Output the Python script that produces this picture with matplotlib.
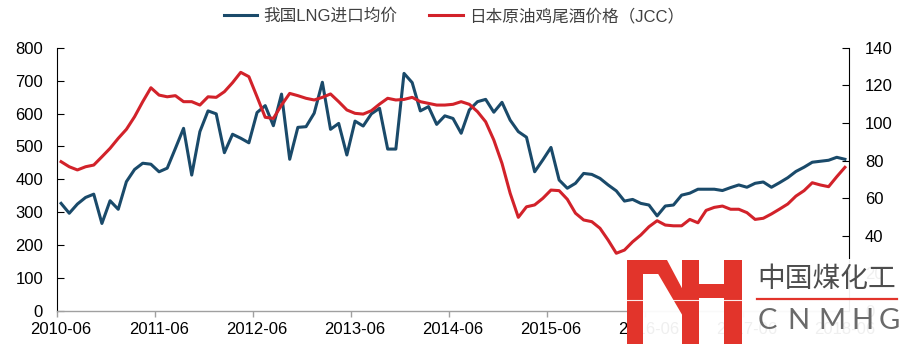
import matplotlib
matplotlib.use("Agg")
import matplotlib.pyplot as plt
from matplotlib.patches import Rectangle, Polygon
import numpy as np

plt.rcParams['font.family'] = ['Liberation Sans', 'Noto Sans CJK SC', 'DejaVu Sans']

# monthly, 2010-06 .. 2018-06
months = [f"{2010 + (5 + i) // 12}-{(5 + i) % 12 + 1:02d}" for i in range(97)]

# LNG average import price (left axis)
lng_price = [327, 297, 325, 345, 355, 266, 335, 309, 393, 430, 449, 446, 423, 434, 494, 555,
             413, 545, 608, 599, 481, 537, 525, 511, 603, 624, 563, 659, 461, 558, 560, 601,
             695, 552, 570, 474, 577, 562, 599, 616, 492, 492, 722, 694, 608, 621, 567, 593,
             585, 540, 611, 636, 643, 604, 634, 580, 545, 528, 423, 459, 497, 398, 373, 388,
             418, 415, 403, 383, 365, 334, 339, 327, 322, 289, 319, 322, 352, 358, 370, 370,
             370, 366, 375, 383, 376, 388, 392, 376, 390, 405, 424, 437, 452, 455, 458, 467, 461]

# Japan crude cocktail price (right axis)
jcc_price = [79.4, 76.7, 75.0, 76.7, 77.6, 82.0, 86.5, 91.8, 96.6, 103.3, 111.3, 118.7, 114.8, 113.9, 114.5, 111.3,
             111.3, 109.5, 113.9, 113.6, 116.6, 121.4, 126.9, 124.6, 113.9, 103.0, 102.4, 109.5, 115.7, 114.5, 113.1, 112.2,
             113.6, 115.4, 111.3, 106.9, 105.1, 104.7, 106.5, 110.0, 113.1, 112.2, 112.5, 113.6, 111.3, 110.4, 109.5, 109.5,
             109.9, 111.3, 109.9, 106.0, 100.6, 90.9, 78.5, 62.6, 49.8, 55.4, 56.4, 59.9, 64.3, 64.0, 59.4, 52.0,
             48.4, 47.5, 44.0, 37.7, 30.7, 32.4, 36.8, 40.4, 44.8, 48.0, 45.7, 45.3, 45.3, 48.7, 46.9, 53.5,
             55.1, 55.8, 54.1, 54.1, 52.3, 48.7, 49.3, 51.6, 54.2, 56.9, 61.1, 64.0, 68.2, 67.0, 66.1, 71.4, 76.4]

BLUE = '#1a4a6a'
RED = '#d2222a'

x = np.arange(len(months))

fig = plt.figure(figsize=(9.03, 3.44), dpi=100)
ax = fig.add_axes([57 / 903, 1 - 311 / 344, (849 - 57) / 903, (311 - 47.7) / 344])
ax2 = ax.twinx()

l1, = ax.plot(x, lng_price, color=BLUE, lw=2.2, label='我国LNG进口均价')
l2, = ax2.plot(x, jcc_price, color=RED, lw=2.2, label='日本原油鸡尾酒价格（JCC）')

ax.set_xlim(-0.5, len(months) - 0.5)
ax.set_ylim(0, 800)
ax2.set_ylim(0, 140)
ax.set_yticks(range(0, 801, 100))
ax2.set_yticks(range(0, 141, 20))

# ticks sit between months, labels on the month itself
ax.set_xticks(np.arange(-0.5, len(months), 12))
ax.set_xticklabels([])
ax.set_xticks(x[::12], labels=[months[i] for i in x[::12]], minor=True)
ax.tick_params(axis='x', which='major', direction='out', length=4, color='#a0a0a0', width=1)
ax.tick_params(axis='x', which='minor', length=0, pad=8, labelsize=12)
ax.tick_params(axis='y', direction='in', length=5, width=0.8, pad=10, labelsize=12)
ax2.tick_params(axis='y', direction='in', length=5, width=0.8, pad=11.5, labelsize=12)

for s in ['top', 'right']:
    ax.spines[s].set_visible(False)
for s in ['top', 'left', 'bottom']:
    ax2.spines[s].set_visible(False)
ax.spines['bottom'].set_color('#a0a0a0')
ax.spines['bottom'].set_linewidth(1)
ax.spines['left'].set_linewidth(0.8)
ax2.spines['right'].set_linewidth(0.8)

leg = fig.legend([l1, l2], [l1.get_label(), l2.get_label()], loc='center',
                 bbox_to_anchor=(0.503, 0.953), ncol=2, frameon=False, fontsize=12,
                 handlelength=2, handletextpad=0.4, columnspacing=1.9)
for t in leg.get_texts():
    t.set_color('#404040')

# watermark logo in the lower right corner
lx = fig.add_axes([0, 0, 1, 1], zorder=10)
lx.set_xlim(0, 903)
lx.set_ylim(344, 0)
lx.axis('off')
lx.add_patch(Rectangle((627, 259), 276, 85, fc='white', ec='none', alpha=0.94))
logo_red = '#e2342b'
lx.add_patch(Polygon([(627, 260), (666, 260), (666, 274), (643, 274), (643, 344), (627, 344)],
                     fc=logo_red, ec='none'))
lx.add_patch(Polygon([(650, 260), (667, 260), (684, 292), (684, 318)], fc=logo_red, ec='none'))
lx.add_patch(Rectangle((682, 260), 17, 84, fc=logo_red, ec='none'))
lx.add_patch(Rectangle((699, 284), 25, 14, fc=logo_red, ec='none'))
lx.add_patch(Rectangle((724, 260), 18, 84, fc=logo_red, ec='none'))
lx.plot([627, 742], [300, 300], color='white', lw=0.8, alpha=0.9)
lx.text(757, 279, '中国煤化工', fontsize=20, color='#4d4d4d', ha='left', va='center',
        family=['Noto Sans CJK SC', 'DejaVu Sans'])
lx.plot([757, 897], [299, 299], color=logo_red, lw=1.6)
for cx, ch in zip([767, 798, 832, 862, 889], 'CNMHG'):
    lx.text(cx, 321, ch, fontsize=21, color='#6a6a6a', ha='center', va='center',
            family=['Lato', 'DejaVu Sans'])

fig.savefig('out.png', dpi=100)
